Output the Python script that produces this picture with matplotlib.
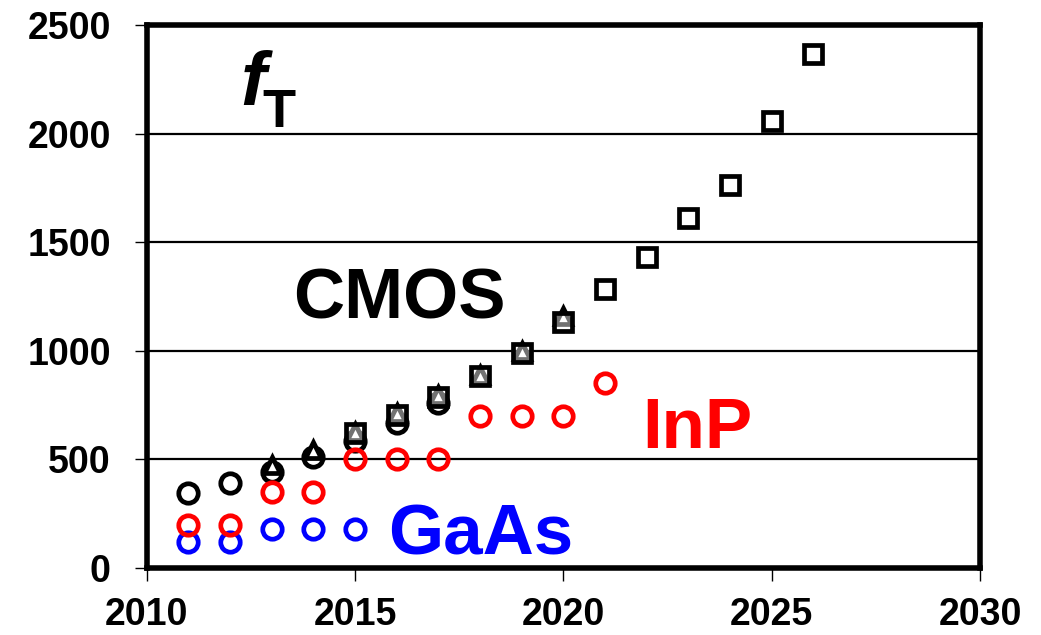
import matplotlib
matplotlib.use("Agg")
import matplotlib.pyplot as plt

plt.rcParams['font.family'] = ['Liberation Sans', 'DejaVu Sans']
plt.rcParams['font.weight'] = 'bold'

# CMOS data (three overlapping sources)
cmos_circ_years = [2011, 2012, 2013, 2014, 2015, 2016, 2017]
cmos_circ_ft = [346, 392, 440, 512, 585, 670, 760]
cmos_tri_years = [2013, 2014, 2015, 2016, 2017, 2018, 2019, 2020]
cmos_tri_ft = [475, 545, 625, 712, 795, 890, 1000, 1160]
cmos_sq_years = [2015, 2016, 2017, 2018, 2019, 2020, 2021, 2022, 2023, 2024, 2025, 2026]
cmos_sq_ft = [623, 706, 789, 886, 992, 1135, 1283, 1431, 1611, 1763, 2058, 2365]
# III-V
inp_years = [2011, 2012, 2013, 2014, 2015, 2016, 2017, 2018, 2019, 2020, 2021]
inp_ft = [198, 200, 348, 350, 500, 500, 500, 700, 700, 700, 850]
gaas_years = [2011, 2012, 2013, 2014, 2015]
gaas_ft = [120, 120, 180, 180, 180]

x_ticks = [2010, 2015, 2020, 2025, 2030]
y_ticks = [0, 500, 1000, 1500, 2000, 2500]

fig = plt.figure(figsize=(10.41, 6.35), dpi=100)
ax = fig.add_axes([0.141, 0.1055, 0.8005, 0.855])

ax.set_xlim(2010, 2030)
ax.set_ylim(0, 2500)
ax.set_xticks(x_ticks)
ax.set_yticks(y_ticks)
ax.yaxis.grid(True, color='black', linewidth=1.6)
ax.set_axisbelow(True)
for s in ax.spines.values():
    s.set_linewidth(4.0)
    s.set_color('black')
ax.tick_params(axis='both', direction='out', length=9, width=1.0, labelsize=27, color='black')
ax.tick_params(axis='y', pad=17)
ax.tick_params(axis='x', pad=12)
for lab in ax.get_xticklabels() + ax.get_yticklabels():
    lab.set_fontweight('bold')

ms = 14
mew = 3.4
ax.plot(gaas_years, gaas_ft, 'o', ls='none', ms=ms, mew=mew, mec='#0000ff', mfc='none', zorder=3)
ax.plot(cmos_circ_years, cmos_circ_ft, 'o', ls='none', ms=ms, mew=mew, mec='black', mfc='none', zorder=3)
ax.plot(cmos_tri_years, cmos_tri_ft, '^', ls='none', ms=12, mew=mew, mec='black', mfc='white', zorder=4)
ax.plot(cmos_sq_years, cmos_sq_ft, 's', ls='none', ms=13, mew=mew, mec='black',
        mfc=(1, 1, 1, 0.45), zorder=5)
ax.plot(inp_years, inp_ft, 'o', ls='none', ms=ms, mew=mew, mec='#ff0000', mfc='none', zorder=6)

ax.text(2013.52, 1151, 'CMOS', fontsize=51, fontweight='bold', color='black', ha='left', va='baseline')
ax.text(2021.9, 552, 'InP', fontsize=51, fontweight='bold', color='#ff0000', ha='left', va='baseline')
ax.text(2015.8, 60, 'GaAs', fontsize=51, fontweight='bold', color='#0000ff', ha='left', va='baseline')
ax.text(2012.25, 2132, 'f', fontsize=55, fontweight='bold', fontstyle='italic', color='black',
        ha='left', va='baseline')
ax.text(2012.78, 2030, 'T', fontsize=39, fontweight='bold', color='black', ha='left', va='baseline')

fig.savefig('out.png', dpi=100)
